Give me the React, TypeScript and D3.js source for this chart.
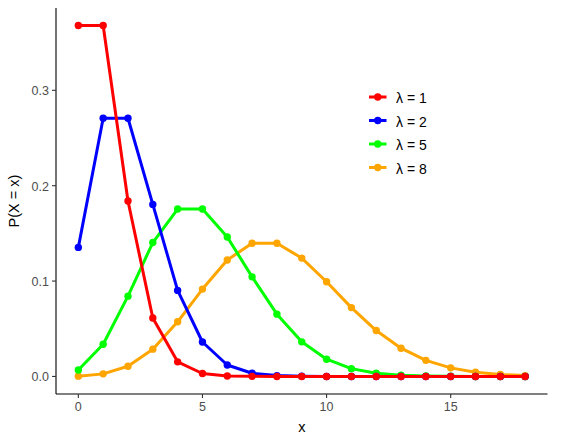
import * as d3 from 'd3';

const XS = d3.range(0, 19);

const LAMBDA_1 = [0.3679, 0.3679, 0.1839, 0.0613, 0.0153, 0.0031, 0.0005, 0.0001, 0.0000, 0.0000, 0.0000, 0.0000, 0.0000, 0.0000, 0.0000, 0.0000, 0.0000, 0.0000, 0.0000];
const LAMBDA_2 = [0.1353, 0.2707, 0.2707, 0.1804, 0.0902, 0.0361, 0.0120, 0.0034, 0.0009, 0.0002, 0.0000, 0.0000, 0.0000, 0.0000, 0.0000, 0.0000, 0.0000, 0.0000, 0.0000];
const LAMBDA_5 = [0.0067, 0.0337, 0.0842, 0.1404, 0.1755, 0.1755, 0.1462, 0.1044, 0.0653, 0.0363, 0.0181, 0.0082, 0.0034, 0.0013, 0.0005, 0.0002, 0.0000, 0.0000, 0.0000];
const LAMBDA_8 = [0.0003, 0.0027, 0.0107, 0.0286, 0.0573, 0.0916, 0.1221, 0.1396, 0.1396, 0.1241, 0.0993, 0.0722, 0.0481, 0.0296, 0.0169, 0.0090, 0.0045, 0.0021, 0.0009];

const LABELS = ['λ = 1', 'λ = 2', 'λ = 5', 'λ = 8'];
const COLORS = ['#FF0000', '#0000FF', '#00FF00', '#FFA500'];
const X_TICKS = [0, 5, 10, 15];
const Y_TICKS = [0, 0.1, 0.2, 0.3];

const SERIES = [LAMBDA_1, LAMBDA_2, LAMBDA_5, LAMBDA_8].map((vals, i) => ({
  label: LABELS[i],
  color: COLORS[i],
  points: vals.map((p, j) => ({ x: XS[j], p })),
}));

const W = 562;
const H = 439;
const FONT = '"Liberation Sans", Arial, sans-serif';

export default function App() {
  const margin = { top: 8, right: 14.5, bottom: 45, left: 56 };
  const innerW = W - margin.left - margin.right;
  const innerH = H - margin.top - margin.bottom;

  // ggplot-style 5% expansion
  const x = d3.scaleLinear().domain([-0.9, 18.9]).range([0, innerW]);
  const y = d3.scaleLinear().domain([-0.0184, 0.3863]).range([innerH, 0]);

  const line = d3.line<{ x: number; p: number }>()
    .x(d => x(d.x))
    .y(d => y(d.p));

  // red drawn last so it sits on top
  const drawOrder = [...SERIES].reverse();

  return (
    <svg width={W} height={H} style={{ position: 'absolute', left: 0, top: 0, background: '#fff' }}>
      <g transform={`translate(${margin.left},${margin.top})`}>
        {drawOrder.map(s => (
          <g key={s.label}>
            <path d={line(s.points) ?? ''} fill="none" stroke={s.color} strokeWidth={3} strokeLinejoin="round" />
            {s.points.map(d => (
              <circle key={d.x} cx={x(d.x)} cy={y(d.p)} r={3.7} fill={s.color} />
            ))}
          </g>
        ))}

        {/* Axes */}
        <line x1={0} x2={0} y1={0} y2={innerH} stroke="#000" strokeWidth={1.1} />
        <line x1={0} x2={innerW} y1={innerH} y2={innerH} stroke="#000" strokeWidth={1.1} />

        {Y_TICKS.map(t => (
          <g key={t}>
            <line x1={-4} x2={0} y1={y(t)} y2={y(t)} stroke="#333" strokeWidth={1.1} />
            <text x={-7} y={y(t) + 1} textAnchor="end" dominantBaseline="central"
              fontSize={12.5} fill="#4D4D4D" fontFamily={FONT}>
              {t.toFixed(1)}
            </text>
          </g>
        ))}

        {X_TICKS.map(t => (
          <g key={t}>
            <line x1={x(t)} x2={x(t)} y1={innerH} y2={innerH + 4} stroke="#333" strokeWidth={1.1} />
            <text x={x(t)} y={innerH + 17} textAnchor="middle"
              fontSize={12.5} fill="#4D4D4D" fontFamily={FONT}>
              {t}
            </text>
          </g>
        ))}

        <text x={innerW / 2} y={innerH + 38} textAnchor="middle" fontSize={14.5} fill="#000" fontFamily={FONT}>
          x
        </text>
      </g>

      <text transform={`translate(19,${margin.top + innerH / 2}) rotate(-90)`} textAnchor="middle"
        fontSize={14.5} fill="#000" fontFamily={FONT}>
        P(X = x)
      </text>

      {/* Legend */}
      <g transform="translate(369,97)">
        {SERIES.map((s, i) => (
          <g key={s.label} transform={`translate(0,${i * 23.5})`}>
            <line x1={0} x2={17.5} y1={0} y2={0} stroke={s.color} strokeWidth={3} />
            <circle cx={8.75} cy={0} r={3.7} fill={s.color} />
            <text x={27} y={1} dominantBaseline="central" fontSize={14} fill="#000" fontFamily={FONT}>
              {s.label}
            </text>
          </g>
        ))}
      </g>
    </svg>
  );
}
